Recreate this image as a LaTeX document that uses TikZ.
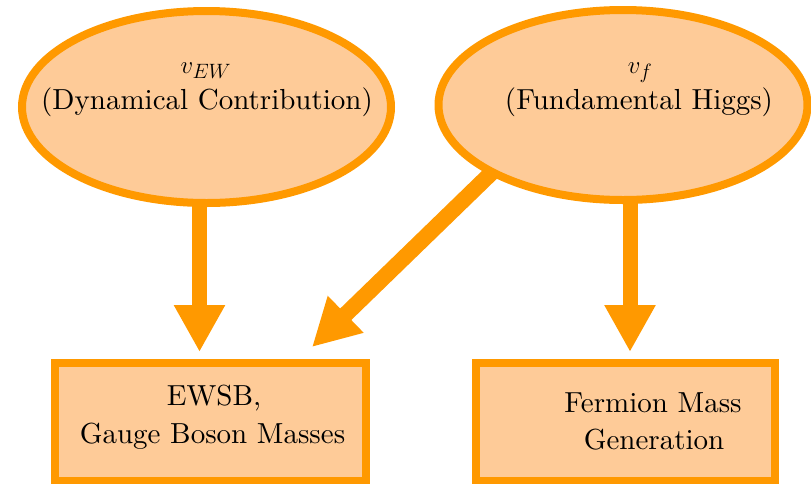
\documentclass[tikz,border=0pt]{standalone}
\usepackage{fontspec}
\setmainfont{lmroman10-regular.otf}
\usetikzlibrary{arrows.meta,shapes.geometric,backgrounds,calc}
\definecolor{ostroke}{RGB}{255,153,0}
\definecolor{ofill}{RGB}{254,203,152}
\begin{document}
\begin{tikzpicture}[x=1pt,y=-1pt,
  oval/.style={ellipse,draw=ostroke,fill=ofill,line width=8pt,inner sep=0pt,minimum width=369pt},
  box/.style={rectangle,draw=ostroke,fill=ofill,line width=8pt,inner sep=0pt,minimum height=118pt},
  conn/.style={draw=ostroke,line width=15pt,-{Triangle[length=47pt,width=48pt]}},
  txt/.style={font=\fontsize{29}{35}\selectfont,anchor=base,inner sep=0pt,text=black}]
\useasboundingbox (0,0) rectangle (811,483);
% shapes
\node[oval,minimum height=192pt] (e1) at (206.5,107) {};
\node[oval,minimum height=190pt] (e2) at (623,105) {};
\node[box,minimum width=311pt] (b1) at (210.5,422) {};
\node[box,minimum width=299pt] (b2) at (625.5,422) {};
% texts
\node[txt] (t1) at (206,73) {$v_{EW}$};
\node[txt] (t2) at (207,109) {(Dynamical Contribution)};
\node[txt] (t3) at (640,73) {$v_f$};
\node[txt] (t4) at (639,109) {(Fundamental Higgs)};
\node[txt] (t5) at (214,405) {EWSB,};
\node[txt] (t6) at (212.5,443) {Gauge Boson Masses};
\node[txt] (t7) at (653,412) {Fermion Mass};
\node[txt] (t8) at (654,449) {Generation};
% connectors
\begin{scope}[on background layer]
\draw[conn] ($(e1.south)+(-7,-10)$) -- ($(b1.north)+(-11,-7)$);
\draw[conn] ($(e2.south)+(7,-10)$) -- ($(b2.north)+(4.5,-7)$);
\draw[conn,line width=16pt] ($(e2.south west)+(15,-15)$) -- ($(b1.north)+(101.5,-12)$);
\end{scope}
\end{tikzpicture}
\end{document}
